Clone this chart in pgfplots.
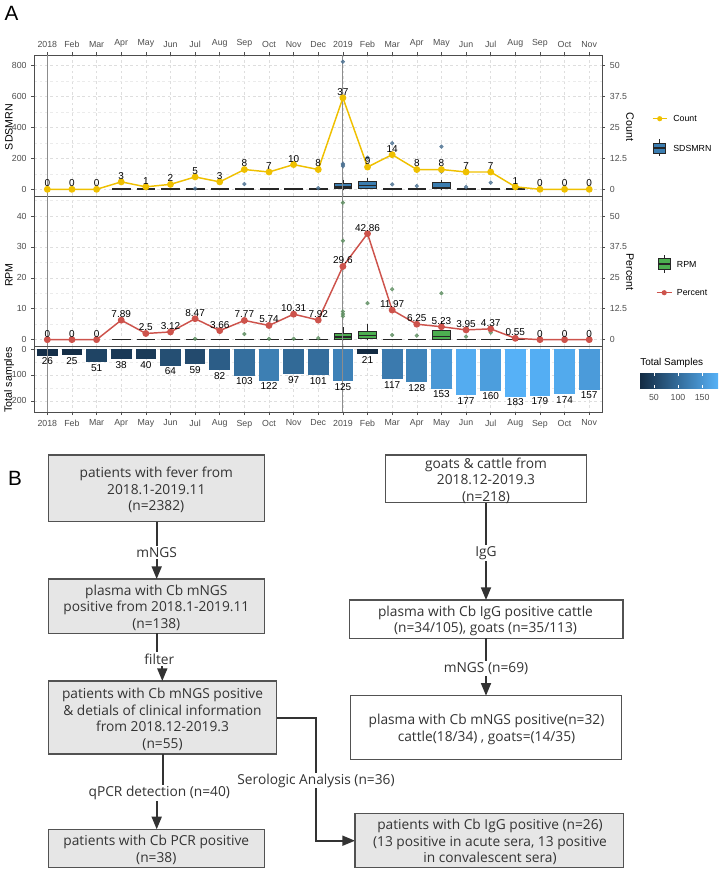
\documentclass[border=0pt]{standalone}
\usepackage{fontspec}
\setmainfont{Liberation Sans}
\newfontfamily\flowfont{Open Sans}
\usepackage{pgfplots}
\pgfplotsset{compat=1.18}
\usepgfplotslibrary{statistics}
\usetikzlibrary{arrows.meta}

\definecolor{cntcol}{HTML}{EFC000}
\definecolor{pctcol}{HTML}{CD534C}
\definecolor{sdsfill}{HTML}{3B7DB0}
\definecolor{rpmfill}{HTML}{4CAF50}
\definecolor{boxline}{HTML}{262626}
\definecolor{outblue}{HTML}{4E7393}
\definecolor{outgreen}{HTML}{5F8F62}
\definecolor{tslow}{HTML}{132B43}
\definecolor{tshigh}{HTML}{56B1F7}
\definecolor{framecol}{HTML}{4D4D4D}
\definecolor{tickcol}{HTML}{4D4D4D}
\definecolor{gridcol}{HTML}{DEDEDE}
\definecolor{refcol}{HTML}{8C8C8C}
\definecolor{flowgray}{HTML}{E6E6E6}
\definecolor{flowline}{HTML}{333333}

\pgfplotsset{
  /pgf/number format/assume math mode=true,
  base/.style={
    scale only axis, width=426pt, xmin=-0.53, xmax=22.53,
    anchor=north west,
    tick label style={font=\fontsize{6.6}{7}\selectfont, color=tickcol},
    tick align=outside, major tick length=2.2pt, minor tick length=0pt,
    tick style={color=tickcol, line width=0.4pt},
    axis line style={color=framecol, line width=0.6pt},
    grid style={gridcol, dash pattern=on 2pt off 2pt, line width=0.4pt},
    minor grid style={gridcol!60, dash pattern=on 2pt off 2pt, line width=0.3pt},
    xtick={0,...,22},
    xticklabels={2018,Feb,Mar,Apr,May,Jun,Jul,Aug,Sep,Oct,Nov,Dec,2019,Feb,Mar,Apr,May,Jun,Jul,Aug,Sep,Oct,Nov},
    xmajorgrids, ymajorgrids, yminorgrids,
    ytick pos=left,
  },
  over/.style={
    scale only axis, width=426pt, xmin=-0.53, xmax=22.53,
    anchor=north west, clip=false,
    axis x line=none, axis y line*=right,
    tick label style={font=\fontsize{6.6}{7}\selectfont, color=tickcol},
    tick align=outside, major tick length=2.2pt,
    tick style={color=tickcol, line width=0.4pt},
    axis line style={color=framecol, line width=0.6pt},
    ytick={0,12.5,25,37.5,50},
  },
  dlab/.style={nodes near coords, nodes near coords style={text=black, font=\fontsize{7.5}{8}\selectfont, inner sep=1.3pt, anchor=south}},
}

% boxplot helpers: position, lower whisker, lower quartile, median, upper quartile, upper whisker
\newcommand\sdsbox[6]{\addplot[boxplot prepared={draw direction=y, draw position=#1, lower whisker=#2, lower quartile=#3, median=#4, upper quartile=#5, upper whisker=#6, box extend=0.72, whisker extend=0, every median/.style={line width=1.1pt}}, draw=boxline, fill=sdsfill, line width=0.5pt] coordinates {};}
\newcommand\rpmbox[6]{\addplot[boxplot prepared={draw direction=y, draw position=#1, lower whisker=#2, lower quartile=#3, median=#4, upper quartile=#5, upper whisker=#6, box extend=0.72, whisker extend=0, every median/.style={line width=1.1pt}}, draw=boxline, fill=rpmfill, line width=0.5pt] coordinates {};}
% one bar of the total-samples panel, coloured by its value (21..183)
\newcommand\tsbar[2]{%
  \pgfmathsetmacro\tsp{(#2-21)/162*100}%
  \edef\tsdo{\noexpand\addplot[ybar, bar width=0.84, bar shift=0pt, draw=none, fill=tshigh!\tsp!tslow, nodes near coords, nodes near coords align={below}, nodes near coords style={text=black, font=\noexpand\fontsize{7.5}{8}\noexpand\selectfont, inner sep=1.5pt, anchor=north}] coordinates {(#1,#2)};}%
  \tsdo}
\newcommand\reflines{%
  \draw[refcol, line width=0.7pt] ({axis cs:0,0}|-{rel axis cs:0,0}) -- ({axis cs:0,0}|-{rel axis cs:0,1});
  \draw[refcol, line width=0.7pt] ({axis cs:12,0}|-{rel axis cs:0,0}) -- ({axis cs:12,0}|-{rel axis cs:0,1});}

\begin{document}
\begin{tikzpicture}
\path[use as bounding box] (0,0) rectangle (541.5pt,-652.5pt);

% ---------------- panel 1: SDSMRN + Count
\begin{axis}[base, at={(25.7pt,-41.25pt)}, height=105.75pt,
  ymin=-43.4, ymax=869.3, ytick={0,200,400,600,800}, minor ytick={100,300,500,700},
  xtick pos=right, xticklabel pos=right]
\sdsbox{3}{0}{0}{0}{3}{4}
\sdsbox{4}{0}{0}{0}{3}{4}
\sdsbox{5}{0}{0}{0}{3}{4}
\sdsbox{6}{0}{0}{0}{3}{4}
\sdsbox{7}{0}{0}{0}{3}{4}
\sdsbox{8}{0}{0}{0}{3}{4}
\sdsbox{9}{0}{0}{0}{3}{4}
\sdsbox{10}{0}{0}{0}{3}{4}
\sdsbox{11}{0}{0}{0}{3}{4}
\sdsbox{12}{0}{3}{15}{40}{60}
\sdsbox{13}{0}{8}{25}{50}{70}
\sdsbox{14}{0}{0}{0}{3}{4}
\sdsbox{15}{0}{0}{0}{3}{4}
\sdsbox{16}{0}{3}{12}{42}{60}
\sdsbox{17}{0}{0}{0}{3}{4}
\sdsbox{18}{0}{0}{0}{3}{4}
\sdsbox{19}{0}{0}{0}{3}{4}
\addplot[only marks, mark=*, mark size=1.4pt, color=outblue, opacity=0.8]
  coordinates {(6,5)(8,34)(11,8)(12,826)(12,165)(12,158)(12,150)(13,205)(14,298)(14,32)(15,21)(16,276)(16,114)(17,15)(18,43)};
\reflines
\end{axis}
\begin{axis}[over, at={(25.7pt,-41.25pt)}, height=105.75pt, ymin=-2.71, ymax=54.33]
\addplot[cntcol, line width=1.1pt, mark=*, mark size=2pt, mark options={fill=cntcol, draw=cntcol}, dlab]
  coordinates {(0,0)(1,0)(2,0)(3,3)(4,1)(5,2)(6,5)(7,3)(8,8)(9,7)(10,10)(11,8)(12,37)(13,9)(14,14)(15,8)(16,8)(17,7)(18,7)(19,1)(20,0)(21,0)(22,0)};
\end{axis}

% ---------------- panel 2: RPM + Percent
\begin{axis}[base, at={(25.7pt,-147pt)}, height=113pt,
  ymin=-2.26, ymax=46.47, ytick={0,10,20,30,40}, minor ytick={5,15,25,35,45},
  xticklabels={}, major x tick style={draw=none}]
\rpmbox{3}{0}{0}{0}{0.1}{0.2}
\rpmbox{4}{0}{0}{0}{0.1}{0.2}
\rpmbox{5}{0}{0}{0}{0.1}{0.2}
\rpmbox{6}{0}{0}{0}{0.1}{0.2}
\rpmbox{7}{0}{0}{0}{0.1}{0.2}
\rpmbox{8}{0}{0}{0}{0.1}{0.2}
\rpmbox{9}{0}{0}{0}{0.1}{0.2}
\rpmbox{10}{0}{0}{0}{0.1}{0.2}
\rpmbox{11}{0}{0}{0}{0.1}{0.2}
\rpmbox{12}{0}{0.2}{0.8}{2.1}{4}
\rpmbox{13}{0}{0.45}{1.4}{2.6}{5}
\rpmbox{14}{0}{0}{0}{0.1}{0.2}
\rpmbox{15}{0}{0}{0}{0.1}{0.2}
\rpmbox{16}{0}{0.2}{1}{3}{6}
\rpmbox{17}{0}{0}{0}{0.1}{0.2}
\rpmbox{18}{0}{0}{0}{0.1}{0.2}
\rpmbox{19}{0}{0}{0}{0.1}{0.2}
\addplot[only marks, mark=*, mark size=1.4pt, color=outgreen, opacity=0.8]
  coordinates {(6,0.3)(8,1.8)(9,0.3)(10,0.3)(11,0.5)(12,44.3)(12,32)(12,9.1)(12,8.3)(12,7.6)(13,11.8)(14,16.3)(14,1.5)(15,1.3)(16,15)(17,1)(18,2.3)};
\reflines
\end{axis}
\begin{axis}[over, at={(25.7pt,-147pt)}, height=113pt, ymin=-2.83, ymax=58.08]
\addplot[pctcol, line width=1.1pt, mark=*, mark size=2pt, mark options={fill=pctcol, draw=pctcol}, dlab]
  coordinates {(0,0)(1,0)(2,0)(3,7.89)(4,2.5)(5,3.12)(6,8.47)(7,3.66)(8,7.77)(9,5.74)(10,10.31)(11,7.92)(12,29.6)(13,42.86)(14,11.97)(15,6.25)(16,5.23)(17,3.95)(18,4.37)(19,0.55)(20,0)(21,0)(22,0)};
\end{axis}

% ---------------- panel 3: total samples
\begin{axis}[base, at={(25.7pt,-260pt)}, height=49.2pt, y dir=reverse,
  ymin=-8.85, ymax=243.5, ytick={0,100,200}, minor ytick={50,150},
  xtick pos=left, xticklabel pos=left]
\tsbar{0}{26}
\tsbar{1}{25}
\tsbar{2}{51}
\tsbar{3}{38}
\tsbar{4}{40}
\tsbar{5}{64}
\tsbar{6}{59}
\tsbar{7}{82}
\tsbar{8}{103}
\tsbar{9}{122}
\tsbar{10}{97}
\tsbar{11}{101}
\tsbar{12}{125}
\tsbar{13}{21}
\tsbar{14}{117}
\tsbar{15}{128}
\tsbar{16}{153}
\tsbar{17}{177}
\tsbar{18}{160}
\tsbar{19}{183}
\tsbar{20}{179}
\tsbar{21}{174}
\tsbar{22}{157}
\reflines
\end{axis}

% ---------------- labels, legends and the flow chart (pixel coordinates)
\begin{scope}[x=0.75pt, y=-0.75pt]
\node[font=\fontsize{15.5}{16}\selectfont] at (11.5,13) {A};
\node[font=\fontsize{15.5}{16}\selectfont] at (15,478) {B};
\begin{scope}[every node/.style={font=\fontsize{8}{9}\selectfont, text=black}]
\node[rotate=90] at (9,127) {SDSMRN};
\node[rotate=90] at (9,275) {RPM};
\node[rotate=90] at (9,380) {Total samples};
\node[rotate=-90] at (630,127) {Count};
\node[rotate=-90] at (630,272) {Percent};
\end{scope}
% legends
\begin{scope}[every node/.style={font=\fontsize{6.6}{7}\selectfont, text=black, anchor=west, inner sep=0pt}]
\draw[cntcol, line width=1.1pt] (652.7,118.7) -- (666.7,118.7);
\fill[cntcol] (659.7,118.7) circle (2.6);
\node at (673,118.7) {Count};
\draw[boxline, line width=0.5pt] (659,139.5) -- (659,143) (659,153) -- (659,156.5);
\draw[boxline, fill=sdsfill, line width=0.5pt] (653,143) rectangle (665,153);
\draw[boxline, line width=1.1pt] (653,148) -- (665,148);
\node at (673,148) {SDSMRN};
\draw[boxline, line width=0.5pt] (664,255) -- (664,258.5) (664,269) -- (664,272.5);
\draw[boxline, fill=rpmfill, line width=0.5pt] (658,258.5) rectangle (670,269);
\draw[boxline, line width=1.1pt] (658,263.8) -- (670,263.8);
\node at (676.7,264) {RPM};
\draw[pctcol, line width=1.1pt] (656.7,292.7) -- (671.7,292.7);
\fill[pctcol] (664.2,292.7) circle (2.6);
\node at (676.7,292.7) {Percent};
\end{scope}
\node[font=\fontsize{7.5}{8}\selectfont, anchor=west, inner sep=0pt] at (640,363) {Total Samples};
\shade[left color=tslow, right color=tshigh] (640,373) rectangle (718,388);
\foreach \v in {50,100,150} {
  \draw[white, line width=0.5pt] ({640+(\v-21)*0.4815},373) -- ++(0,3) ({640+(\v-21)*0.4815},388) -- ++(0,-3);
  \node[font=\fontsize{6.6}{7}\selectfont, text=tickcol] at ({640+(\v-21)*0.4815},397) {\v};
}

% flow chart
\begin{scope}[every node/.style={font=\flowfont\fontsize{10.3}{12.5}\selectfont, text=flowline, align=center}]
\tikzset{fbox/.style={draw=flowline!85, line width=0.8pt}, arr/.style={flowline, line width=1.3pt, -{Triangle[width=7.5pt,length=9.5pt]}}}
% left column
\draw[fbox, fill=flowgray] (48.3,455) rectangle (264.3,521.7);
\node at (156.3,490) {patients with fever from\\2018.1-2019.11\\(n=2382)};
\draw[fbox, fill=flowgray] (48.3,579) rectangle (264.3,633.3);
\node at (156.3,607.7) {plasma with Cb mNGS\\positive from 2018.1-2019.11\\(n=138)};
\draw[fbox, fill=flowgray] (48.3,681) rectangle (276.7,754);
\node at (162.5,719.2) {patients with Cb mNGS positive\\\& detials of clinical information\\from 2018.12-2019.3\\(n=55)};
\draw[fbox, fill=flowgray] (48.3,829.3) rectangle (264.3,867.7);
\node at (156.3,849.8) {patients with Cb PCR positive\\(n=38)};
\draw[arr] (156.7,521.7) -- (156.7,579);
\node[fill=white, inner sep=1pt] at (156.7,552.3) {mNGS};
\draw[arr] (156.7,633.3) -- (156.7,659) -- (162.3,659) -- (162.3,681);
\node[fill=white, inner sep=1pt] at (159.3,659) {filter};
\draw[arr] (162.7,754) -- (162.7,792.7) -- (156.7,792.7) -- (156.7,829.3);
\node[fill=white, inner sep=1pt] at (159.3,792.7) {qPCR detection (n=40)};
\draw[arr] (276.7,717.7) -- (315.7,717.7) -- (315.7,840.7) -- (355,840.7);
\node[fill=white, inner sep=0.5pt] at (316,780.7) {Serologic Analysis (n=36)};
% right column
\draw[fbox, fill=white] (385.7,455) rectangle (586.7,502.7);
\node at (486,480.7) {goats \& cattle from\\2018.12-2019.3\\(n=218)};
\draw[fbox, fill=white] (349.3,600) rectangle (623,638.3);
\node at (485.5,621) {plasma with Cb IgG positive cattle\\(n=34/105), goats (n=35/113)};
\draw[fbox, fill=white] (350.7,695.7) rectangle (621.7,759.3);
\node at (486.5,729.7) {plasma with Cb mNGS positive(n=32)\\cattle(18/34) , goats=(14/35)};
\draw[fbox, fill=flowgray] (355,813.3) rectangle (623.3,867.7);
\node at (490,842) {patients with Cb IgG positive (n=26)\\(13 positive in acute sera, 13 positive\\in convalescent sera)};
\draw[arr] (486,502.7) -- (486,600);
\node[fill=white, inner sep=1pt] at (486,553.3) {IgG};
\draw[arr] (486,638.3) -- (486,695.7);
\node[fill=white, inner sep=1pt] at (486,668.3) {mNGS (n=69)};
\end{scope}
\end{scope}
\end{tikzpicture}
\end{document}
